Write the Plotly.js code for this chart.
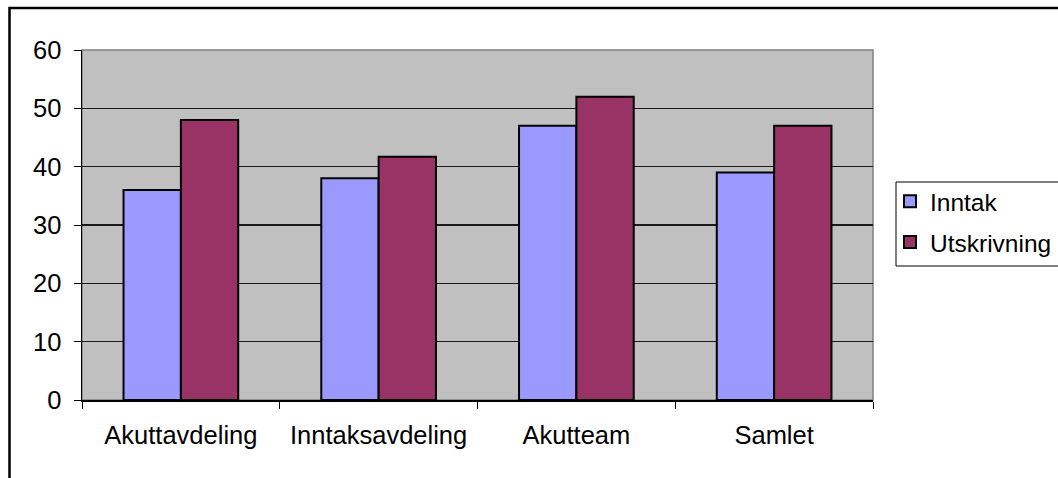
<!DOCTYPE html>
<html>
<head>
<meta charset="utf-8">
<script src="https://cdn.plot.ly/plotly-3.0.1.min.js"></script>
<style>html,body{margin:0;padding:0;background:#fff;}#chart{width:1058px;height:478px;}</style>
</head>
<body>
<div id="chart"></div>
<script>
var categories = ["Akuttavdeling", "Inntaksavdeling", "Akutteam", "Samlet"];
var inntak = [36, 38, 47, 39];
var utskrivning = [48, 41.7, 52, 47];
var seriesNames = ["Inntak", "Utskrivning"];
var yTicks = [0, 10, 20, 30, 40, 50, 60];

var fontFam = "Liberation Sans, Arial, sans-serif";
var fs = 25.5;
var traces = [
  {type: "bar", x: categories, y: inntak, name: seriesNames[0], legendgroup: "a",
   marker: {color: "#9999ff", line: {color: "#000", width: 2}}},
  {type: "bar", x: categories, y: utskrivning, name: seriesNames[1], legendgroup: "b",
   marker: {color: "#993366", line: {color: "#000", width: 2}}}
];

var layout = {
  width: 1058, height: 478,
  margin: {l: 82, r: 185, t: 50, b: 78, autoexpand: false},
  paper_bgcolor: "#ffffff",
  plot_bgcolor: "#c0c0c0",
  barmode: "group",
  bargap: 0.42,
  bargroupgap: 0,
  showlegend: true,
  font: {family: fontFam, size: fs, color: "#000"},
  xaxis: {
    type: "category",
    tickson: "boundaries",
    ticks: "outside", ticklen: 7, tickcolor: "#000", tickwidth: 1,
    showline: true, linecolor: "#000", linewidth: 1.5,
    showgrid: false,
    ticklabelstandoff: 12,
    automargin: false,
    tickfont: {family: fontFam, size: fs, color: "#000"}
  },
  yaxis: {
    range: [0, 60],
    tickvals: yTicks,
    ticks: "outside", ticklen: 7, tickcolor: "#000", tickwidth: 1,
    showline: true, linecolor: "#000", linewidth: 1.5,
    showgrid: true, gridcolor: "#1a1a1a", gridwidth: 1.2,
    zeroline: false,
    ticklabelstandoff: 7,
    automargin: false,
    tickfont: {family: fontFam, size: fs, color: "#000"}
  },
  legend: {
    x: (890 - 82) / 791, y: 0.632, xanchor: "left", yanchor: "top",
    bgcolor: "rgba(0,0,0,0)", borderwidth: 0,
    traceorder: "grouped", tracegroupgap: 6,
    itemwidth: 30,
    font: {family: fontFam, size: 24.5, color: "#000"}
  },
  shapes: [
    {type: "rect", xref: "paper", yref: "paper", x0: 0, x1: 1, y0: 0, y1: 1,
     line: {color: "#808080", width: 1.5}, layer: "below"},
    {type: "rect", xref: "paper", yref: "paper",
     x0: (896 - 82) / 791, x1: (1064 - 82) / 791,
     y0: (400 - 266) / 350, y1: (400 - 182) / 350,
     fillcolor: "#ffffff", line: {color: "#000", width: 1}, layer: "below"},
    {type: "rect", xref: "paper", yref: "paper",
     x0: (9.5 - 82) / 791, x1: (1075 - 82) / 791,
     y0: (400 - 495) / 350, y1: (400 - 8) / 350,
     line: {color: "#000", width: 2.5}}
  ]
};

Plotly.newPlot("chart", traces, layout, {staticPlot: true, displayModeBar: false});
</script>
</body>
</html>
